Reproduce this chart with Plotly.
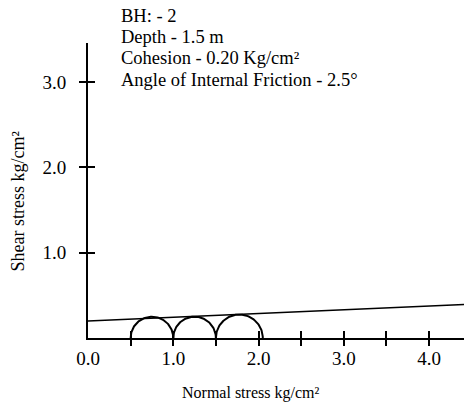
import numpy as np
import plotly.graph_objects as go

# ---- data ----
sigma3 = [0.5, 1.0, 1.5]          # minor principal stress (kg/cm2)
sigma1 = [1.0, 1.5, 2.05]         # major principal stress (kg/cm2)
cohesion = 0.20                   # kg/cm2
phi_deg = 2.5                     # angle of internal friction
x_tick_vals = [0.0, 1.0, 2.0, 3.0, 4.0]
x_tick_text = ["0.0", "1.0", "2.0", "3.0", "4.0"]
x_minor_ticks = [0.5, 1.0, 1.5, 2.0, 2.5, 3.0, 3.5, 4.0]
y_tick_vals = [1.0, 2.0, 3.0]
y_tick_text = ["1.0", "2.0", "3.0"]
info_lines = ["BH: - 2", "Depth - 1.5 m", "Cohesion - 0.20 Kg/cm²",
              "Angle of Internal Friction - 2.5°"]
x_title = "Normal stress kg/cm²"
y_title = "Shear stress kg/cm²"

X_MAX = 4.41
Y_MAX = 3.46
FONT = "Liberation Serif"

W, H = 464, 408
ML, MR, MT, MB = 88, 0, 43, 70
PW, PH = W - ML - MR, H - MT - MB


def px(sx):
    return (sx - ML) / PW


def py(sy):
    return (H - MB - sy) / PH


fig = go.Figure()

# Mohr circles (upper halves)
theta = np.linspace(0, np.pi, 90)
for s3, s1 in zip(sigma3, sigma1):
    c = (s1 + s3) / 2
    r = (s1 - s3) / 2
    fig.add_trace(go.Scatter(x=c + r * np.cos(theta[::-1]), y=r * np.sin(theta[::-1]),
                             mode="lines", line=dict(color="black", width=2),
                             showlegend=False, hoverinfo="skip", cliponaxis=False))

# failure envelope
xe = np.array([0.0, X_MAX])
fig.add_trace(go.Scatter(x=xe, y=cohesion + xe * np.tan(np.radians(phi_deg)),
                         mode="lines", line=dict(color="black", width=1.5),
                         showlegend=False, hoverinfo="skip"))

# helper traces to establish overlay axes
fig.add_trace(go.Scatter(x=[None], y=[None], xaxis="x2", yaxis="y", showlegend=False))
fig.add_trace(go.Scatter(x=[None], y=[None], xaxis="x3", yaxis="y", showlegend=False))
fig.add_trace(go.Scatter(x=[None], y=[None], xaxis="x", yaxis="y2", showlegend=False))

tickfont = dict(family=FONT, size=19, color="black")

fig.update_layout(
    width=W, height=H,
    margin=dict(l=ML, r=MR, t=MT, b=MB, pad=0),
    paper_bgcolor="white", plot_bgcolor="white",
    showlegend=False,
    font=dict(family=FONT, color="black"),
    xaxis=dict(range=[0, X_MAX], showline=True, linecolor="black", linewidth=2,
               showgrid=False, zeroline=False, ticks="",
               tickvals=x_tick_vals, ticktext=x_tick_text, tickfont=tickfont,
               ticklabelstandoff=2),
    xaxis2=dict(range=[0, X_MAX], overlaying="x", anchor="y", side="bottom",
                showline=False, showgrid=False, zeroline=False,
                ticks="outside", ticklen=7, tickwidth=2, tickcolor="black",
                tickvals=x_minor_ticks, showticklabels=False),
    xaxis3=dict(range=[0, X_MAX], overlaying="x", anchor="y", side="bottom",
                showline=False, showgrid=False, zeroline=False,
                ticks="inside", ticklen=7, tickwidth=2, tickcolor="black",
                tickvals=x_minor_ticks, showticklabels=False),
    yaxis=dict(range=[0, Y_MAX], showline=True, linecolor="black", linewidth=2,
               showgrid=False, zeroline=False, ticks="outside", ticklen=7,
               tickwidth=2, tickcolor="black",
               tickvals=y_tick_vals, ticktext=y_tick_text, tickfont=tickfont,
               ticklabelstandoff=9),
    yaxis2=dict(range=[0, Y_MAX], overlaying="y", anchor="x", side="left",
                showline=False, showgrid=False, zeroline=False,
                ticks="inside", ticklen=7, tickwidth=2, tickcolor="black",
                tickvals=y_tick_vals, showticklabels=False),
)

# info text
info_y_px = [14, 35.5, 57, 78.5]
for txt, sy in zip(info_lines, info_y_px):
    fig.add_annotation(text=txt, xref="paper", yref="paper",
                       x=px(119), y=py(sy + 1.5),
                       xanchor="left", yanchor="middle", showarrow=False,
                       font=dict(family=FONT, size=18.5, color="black"))

# axis titles
fig.add_annotation(text=x_title, xref="paper", yref="paper",
                   x=px(250), y=py(393),
                   xanchor="center", yanchor="middle", showarrow=False,
                   font=dict(family=FONT, size=16, color="black"))
fig.add_annotation(text=y_title, xref="paper", yref="paper",
                   x=px(17.5), y=py(202),
                   xanchor="center", yanchor="middle", showarrow=False, textangle=-90,
                   font=dict(family=FONT, size=18, color="black"))

fig.write_html("out.html",
               config={"displayModeBar": False, "staticPlot": True},
               post_script="document.body.style.margin='0';document.body.style.overflow='hidden';")
